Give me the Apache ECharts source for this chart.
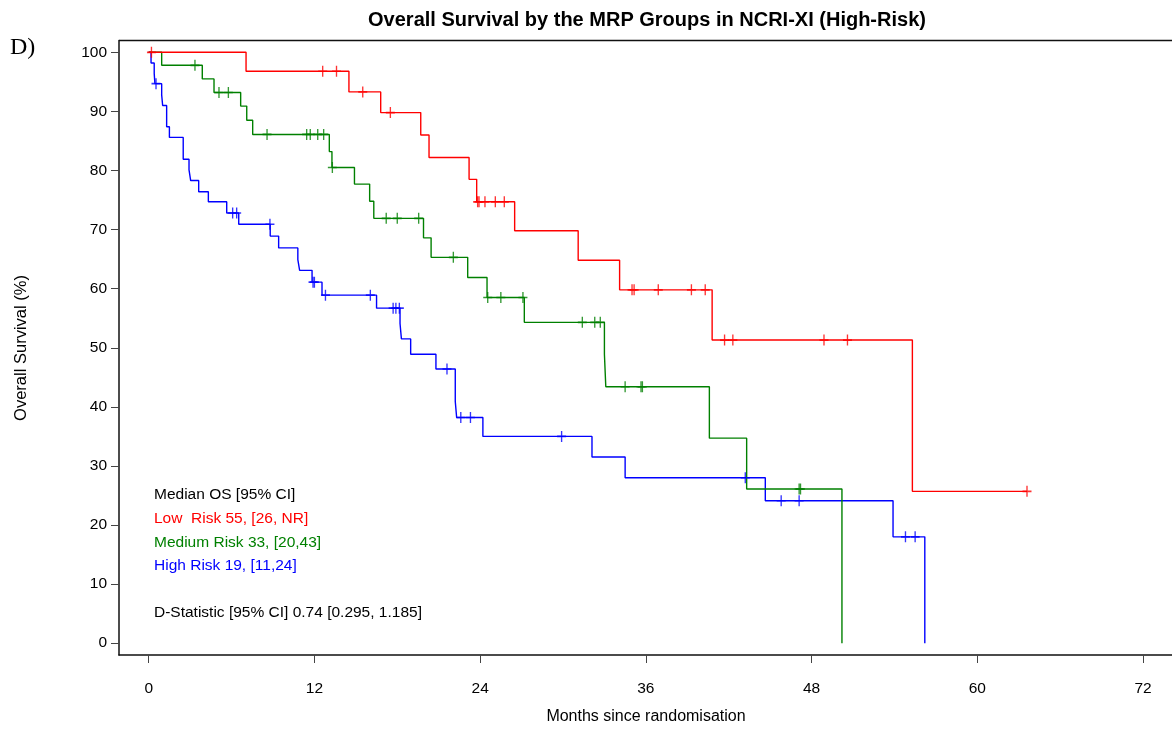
<!DOCTYPE html>
<html lang="en">
<head>
	<meta charset="UTF-8">
	<title>Overall Survival by MRP Groups</title>
	<script src="https://cdn.jsdelivr.net/npm/echarts@6/dist/echarts.min.js"></script>
	<style>
		html, body { margin: 0; padding: 0; background: #fff; }
		#main { width: 1172px; height: 729px; }
	</style>
</head>
<body>
	<div id="main"></div>
	<script type="text/javascript">
		// Kaplan-Meier step points: time (months) and survival (%) after each drop
		var lowTimes = [0, 7.05, 14.5, 16.8, 19.7, 20.3, 23.2, 23.75, 26.5, 31.1, 34.1, 40.8, 55.3, 63.6];
		var lowSurv = [100, 96.8, 93.3, 89.8, 86.0, 82.2, 78.5, 74.7, 69.8, 64.8, 59.8, 51.3, 25.7, 25.7];
		var lowCensor = [0.2, 12.6, 13.6, 15.5, 17.5, 23.82, 23.92, 24.35, 25.1, 25.75, 35.0, 35.15, 36.9, 39.3, 40.3, 41.7, 42.3, 48.9, 50.6, 63.6];

		var midTimes = [0, 0.94, 3.88, 4.73, 6.66, 7.1, 7.53, 13.08, 13.27, 14.9, 16.0, 16.3, 19.9, 20.45, 23.1, 24.5, 27.2, 33.0, 33.1, 40.6, 43.3, 50.2];
		var midSurv = [100, 97.8, 95.5, 93.2, 90.9, 88.5, 86.1, 83.2, 80.5, 77.7, 74.8, 71.9, 68.6, 65.3, 61.9, 58.5, 54.3, 48.9, 43.4, 34.7, 26.1, 0];
		var midCensor = [3.35, 5.09, 5.77, 8.57, 11.44, 11.7, 12.24, 12.67, 13.3, 17.2, 18.0, 19.55, 22.06, 24.55, 25.5, 27.1, 31.4, 32.3, 32.7, 34.5, 35.65, 35.75, 47.1, 47.2];

		var highTimes = [0, 0.17, 0.40, 0.45, 0.94, 1.01, 1.3, 1.5, 2.5, 2.92, 3.04, 3.62, 4.32, 5.65, 6.52, 8.8, 9.41, 10.8, 10.93, 11.83, 12.55, 16.5, 18.2, 18.3, 18.97, 20.8, 22.2, 22.3, 24.2, 32.1, 34.5, 44.65, 53.9, 56.2];
		var highSurv = [100, 98.2, 96.4, 94.7, 92.8, 91.0, 87.4, 85.6, 81.9, 80.1, 78.3, 76.4, 74.7, 72.8, 70.9, 68.9, 66.9, 64.9, 63.1, 61.1, 58.9, 56.7, 54.1, 51.5, 48.9, 46.4, 40.9, 38.2, 35.0, 31.5, 28.0, 24.1, 18.0, 0];
		var highCensor = [0.53, 6.08, 6.37, 8.78, 11.9, 12.0, 12.8, 16.05, 17.7, 17.9, 18.15, 21.6, 22.6, 23.3, 29.9, 43.2, 45.8, 47.1, 54.8, 55.5];

		var xTicks = [0, 12, 24, 36, 48, 60, 72];
		var yTicks = [0, 10, 20, 30, 40, 50, 60, 70, 80, 90, 100];

		var annotations = [
			{ text: 'Median OS [95% CI]', color: '#000000' },
			{ text: 'Low  Risk 55, [26, NR]', color: '#ff0000' },
			{ text: 'Medium Risk 33, [20,43]', color: '#008000' },
			{ text: 'High Risk 19, [11,24]', color: '#0000ff' }
		];
		var dStat = 'D-Statistic [95% CI] 0.74 [0.295, 1.185]';

		var FONT = '"Liberation Sans", Arial, sans-serif';
		var PLUS = 'path://M8.5,0H11.5V8.5H20V11.5H11.5V20H8.5V11.5H0V8.5H8.5Z';

		function pairs(times, surv) {
			return times.map(function (t, i) { return [t, surv[i]]; });
		}

		// survival level of the step curve at time t
		function survAt(times, surv, t) {
			var s = surv[0];
			for (var i = 0; i < times.length; i++) {
				if (times[i] <= t) s = surv[i];
			}
			return s;
		}

		function stepSeries(times, surv, color) {
			return {
				type: 'line',
				step: 'end',
				data: pairs(times, surv),
				showSymbol: false,
				lineStyle: { color: color, width: 1.4 },
				silent: true,
				z: 3
			};
		}

		function censorSeries(times, surv, cens, color) {
			return {
				type: 'scatter',
				symbol: PLUS,
				symbolSize: [9, 11],
				itemStyle: { color: color },
				data: cens.map(function (t) { return [t, survAt(times, surv, t)]; }),
				silent: true,
				z: 4
			};
		}

		var myChart = echarts.init(document.getElementById('main'), null, { renderer: 'canvas' });

		var graphics = [
			{
				type: 'text', left: 10, top: 36,
				style: { text: 'D)', font: '24px "Liberation Serif", "Times New Roman", serif', fill: '#000' }
			},
			{
				type: 'text', x: 647, y: 20,
				style: { text: 'Overall Survival by the MRP Groups in NCRI-XI (High-Risk)', font: 'bold 20px ' + FONT, fill: '#000', textAlign: 'center', textVerticalAlign: 'middle' }
			},
			{
				type: 'text', x: 646, y: 717,
				style: { text: 'Months since randomisation', font: '16px ' + FONT, fill: '#000', textAlign: 'center', textVerticalAlign: 'middle' }
			},
			{
				type: 'text', x: 21, y: 348, rotation: Math.PI / 2,
				style: { text: 'Overall Survival (%)', font: '16.5px ' + FONT, fill: '#000', textAlign: 'center', textVerticalAlign: 'middle' }
			},
			{
				type: 'line',
				shape: { x1: 119, y1: 40.5, x2: 1172, y2: 40.5 },
				style: { stroke: '#111', lineWidth: 1.5 }
			}
		];
		annotations.forEach(function (a, i) {
			graphics.push({
				type: 'text', x: 154, y: 495 + i * 23.7,
				style: { text: a.text, font: '15.5px ' + FONT, fill: a.color, textVerticalAlign: 'middle' }
			});
		});
		graphics.push({
			type: 'text', x: 154, y: 613,
			style: { text: dStat, font: '15.5px ' + FONT, fill: '#000', textVerticalAlign: 'middle' }
		});

		var option = {
			backgroundColor: '#fff',
			animation: false,
			grid: { left: 119, top: 40.5, right: 0, height: 614.5 },
			xAxis: {
				type: 'value',
				min: -2.15,
				max: 74.1,
				splitLine: { show: false },
				axisLine: { show: true, onZero: false, lineStyle: { color: '#111', width: 1.5 } },
				axisTick: { show: true, length: 8, customValues: xTicks, lineStyle: { color: '#444', width: 1 } },
				axisLabel: { customValues: xTicks, margin: 26, color: '#000', fontSize: 15.5, fontFamily: FONT }
			},
			yAxis: {
				type: 'value',
				min: -2,
				max: 102,
				splitLine: { show: false },
				axisLine: { show: true, onZero: false, lineStyle: { color: '#111', width: 1.5 } },
				axisTick: { show: true, length: 8, customValues: yTicks, lineStyle: { color: '#444', width: 1 } },
				axisLabel: { customValues: yTicks, margin: 12, color: '#000', fontSize: 15.5, fontFamily: FONT }
			},
			graphic: graphics,
			series: [
				stepSeries(highTimes, highSurv, '#0000ff'),
				stepSeries(midTimes, midSurv, '#008000'),
				stepSeries(lowTimes, lowSurv, '#ff0000'),
				censorSeries(highTimes, highSurv, highCensor, '#0000ff'),
				censorSeries(midTimes, midSurv, midCensor, '#008000'),
				censorSeries(lowTimes, lowSurv, lowCensor, '#ff0000')
			]
		};

		myChart.setOption(option);
	</script>
</body>
</html>
